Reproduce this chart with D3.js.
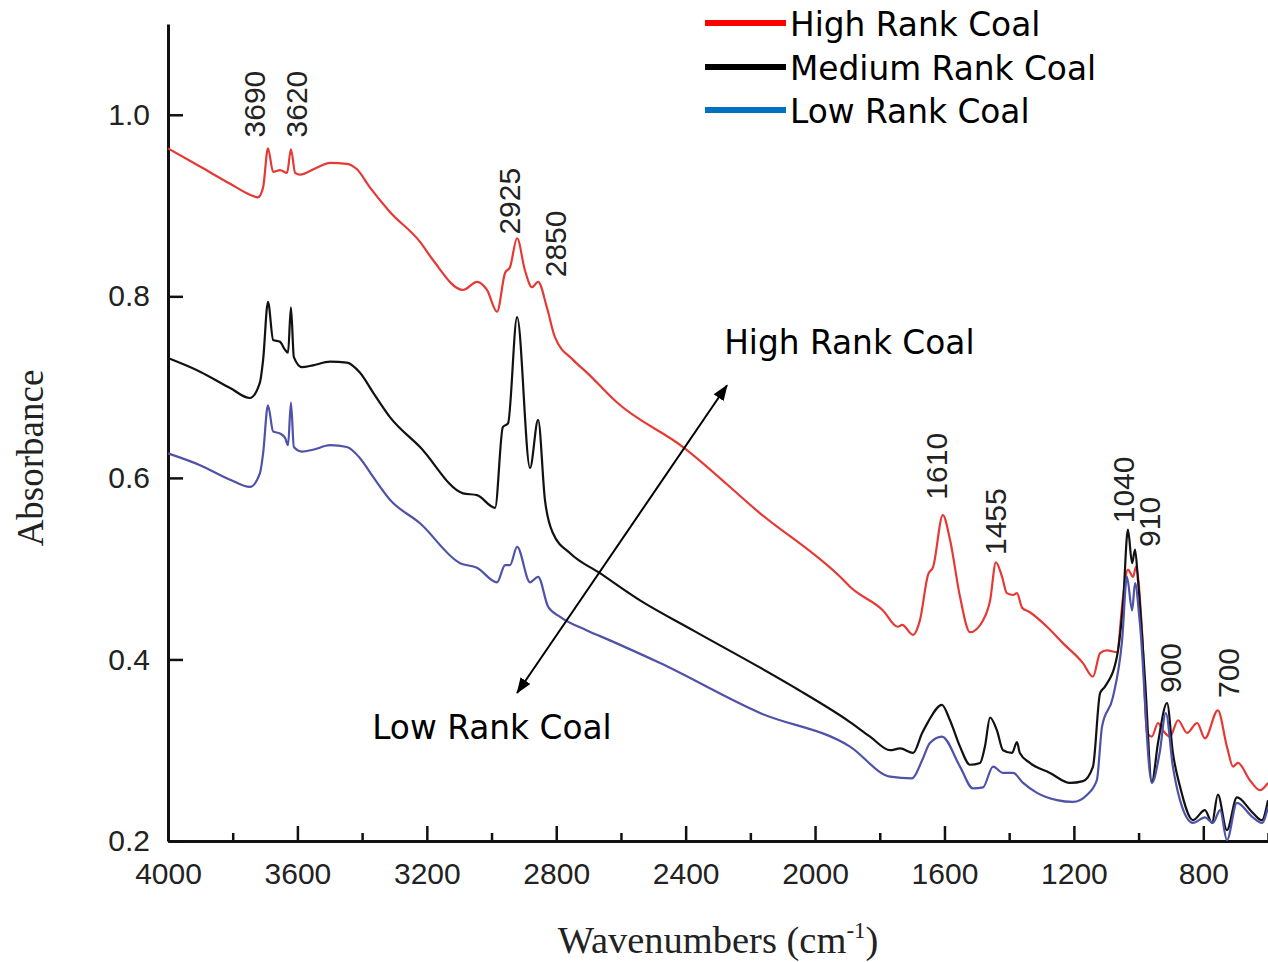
<!DOCTYPE html>
<html>
<head>
<meta charset="utf-8">
<script src="https://cdn.jsdelivr.net/npm/d3@7"></script>
<style>
  html, body { margin: 0; padding: 0; background: #fff; }
  svg { display: block; }
</style>
</head>
<body>
<svg id="chart" width="1268" height="962"></svg>
<script>
// ---------------- DATA ----------------
const seriesNames = ["High Rank Coal", "Medium Rank Coal", "Low Rank Coal"];

// [wavenumber (cm-1), absorbance]
const highRank = [[4000,0.963],[3901,0.943],[3808,0.924],[3747,0.912],[3722,0.909],[3706,0.920],[3691,0.963],[3675,0.937],[3654,0.939],[3632,0.936],[3620,0.962],[3607,0.936],[3592,0.934],[3539,0.942],[3499,0.947],[3447,0.946],[3416,0.940],[3376,0.920],[3314,0.893],[3221,0.860],[3181,0.840],[3088,0.807],[3045,0.816],[3014,0.807],[2983,0.783],[2958,0.826],[2943,0.832],[2921,0.864],[2897,0.829],[2875,0.810],[2856,0.816],[2829,0.788],[2804,0.755],[2748,0.730],[2705,0.716],[2612,0.683],[2408,0.634],[2170,0.561],[1914,0.488],[1892,0.480],[1790,0.454],[1744,0.436],[1731,0.438],[1697,0.427],[1676,0.443],[1651,0.493],[1635,0.502],[1605,0.559],[1583,0.532],[1552,0.469],[1521,0.430],[1481,0.443],[1459,0.465],[1441,0.507],[1422,0.491],[1407,0.473],[1388,0.471],[1376,0.473],[1360,0.457],[1336,0.452],[1283,0.436],[1234,0.418],[1172,0.396],[1141,0.381],[1119,0.407],[1098,0.410],[1067,0.408],[1048,0.469],[1033,0.499],[1017,0.491],[1008,0.502],[989,0.429],[974,0.319],[959,0.315],[940,0.330],[925,0.322],[903,0.315],[878,0.333],[850,0.319],[819,0.330],[795,0.313],[755,0.344],[727,0.304],[708,0.282],[693,0.286],[656,0.267],[625,0.256],[600,0.264]];

const mediumRank = [[4000,0.732],[3901,0.717],[3808,0.699],[3747,0.688],[3716,0.705],[3706,0.730],[3691,0.794],[3675,0.752],[3654,0.750],[3638,0.741],[3629,0.738],[3620,0.788],[3611,0.733],[3586,0.722],[3552,0.724],[3499,0.728],[3447,0.727],[3407,0.716],[3366,0.694],[3314,0.667],[3221,0.634],[3088,0.583],[3045,0.581],[2989,0.567],[2965,0.656],[2949,0.660],[2921,0.777],[2881,0.611],[2856,0.664],[2835,0.576],[2810,0.539],[2757,0.517],[2665,0.495],[2541,0.465],[2377,0.432],[2068,0.370],[1892,0.331],[1830,0.315],[1768,0.300],[1737,0.302],[1697,0.297],[1669,0.319],[1651,0.331],[1608,0.350],[1583,0.333],[1552,0.304],[1521,0.284],[1490,0.286],[1475,0.304],[1459,0.336],[1438,0.322],[1419,0.300],[1391,0.297],[1376,0.309],[1367,0.297],[1336,0.286],[1274,0.275],[1212,0.264],[1172,0.266],[1141,0.282],[1119,0.363],[1104,0.370],[1067,0.403],[1048,0.462],[1033,0.543],[1020,0.506],[1011,0.521],[1002,0.488],[980,0.377],[959,0.265],[940,0.308],[912,0.352],[894,0.297],[872,0.260],[832,0.223],[795,0.234],[773,0.220],[755,0.251],[727,0.212],[696,0.248],[647,0.231],[619,0.223],[600,0.245]];

const lowRank = [[4000,0.627],[3901,0.614],[3808,0.598],[3747,0.590],[3716,0.605],[3706,0.627],[3691,0.680],[3675,0.651],[3654,0.649],[3638,0.644],[3629,0.636],[3620,0.683],[3611,0.634],[3586,0.629],[3552,0.631],[3499,0.636],[3447,0.634],[3407,0.622],[3366,0.601],[3314,0.576],[3221,0.550],[3097,0.506],[3045,0.501],[2983,0.485],[2958,0.504],[2943,0.504],[2921,0.524],[2881,0.485],[2856,0.491],[2825,0.458],[2788,0.447],[2705,0.432],[2634,0.421],[2479,0.396],[2170,0.341],[1892,0.304],[1768,0.271],[1700,0.269],[1669,0.289],[1645,0.308],[1608,0.315],[1552,0.282],[1512,0.258],[1481,0.259],[1450,0.282],[1419,0.275],[1388,0.275],[1357,0.264],[1314,0.253],[1252,0.245],[1203,0.243],[1159,0.251],[1129,0.267],[1113,0.326],[1079,0.359],[1051,0.421],[1036,0.491],[1020,0.454],[1011,0.484],[996,0.440],[959,0.264],[935,0.297],[916,0.341],[894,0.282],[872,0.245],[832,0.220],[795,0.226],[770,0.220],[748,0.234],[727,0.201],[696,0.242],[647,0.226],[619,0.220],[600,0.237]];

const xMajorTicks = [4000, 3600, 3200, 2800, 2400, 2000, 1600, 1200, 800];
const xMinorTicks = [3800, 3400, 3000, 2600, 2200, 1800, 1400, 1000, 600];
const yTicks = [0.2, 0.4, 0.6, 0.8, 1.0];

// peak labels: text, wavenumber of label centre, absorbance at label bottom
const peakLabels = [
  ["3690", 3734, 0.975], ["3620", 3604, 0.975],
  ["2925", 2943, 0.868], ["2850", 2801, 0.821],
  ["1610", 1626, 0.576], ["1455", 1441, 0.515],
  ["1040", 1048, 0.550], ["910", 965, 0.524],
  ["900", 900, 0.363], ["700", 721, 0.3575]
];

// annotation arrow (data coords) and its labels
const arrowFrom = [2921, 0.363];
const arrowTo = [2272, 0.702];
const annotations = [["High Rank Coal", 2281, 0.7365], ["Low Rank Coal", 3369, 0.3124]];

// ---------------- STYLE / LAYOUT ----------------
const lineColors = ["#e53935", "#111111", "#4e52a8"];
const legendColors = ["#ff0000", "#000000", "#0070c0"];

const svg = d3.select("#chart");
const x = d3.scaleLinear().domain([4000, 600]).range([168, 1268]);
const y = d3.scaleLinear().domain([0.2, 1.1]).range([841, 24]);

const tickFont = "'Liberation Sans', Arial, sans-serif";
const sansFont = "'DejaVu Sans', Verdana, sans-serif";
const serifFont = "'Liberation Serif', 'Times New Roman', serif";

// ---------------- AXES ----------------
const xAxis = svg.append("g").attr("transform", `translate(0,${y(0.2)})`)
  .call(d3.axisBottom(x).tickValues(xMajorTicks).tickFormat(d3.format("d"))
    .tickSize(-15).tickSizeOuter(0).tickPadding(22));
const xMinor = svg.append("g").attr("transform", `translate(0,${y(0.2)})`)
  .call(d3.axisBottom(x).tickValues(xMinorTicks).tickFormat("")
    .tickSize(-8).tickSizeOuter(0));
xMinor.select(".domain").remove();

const yAxis = svg.append("g").attr("transform", `translate(${x(4000)},0)`)
  .call(d3.axisLeft(y).tickValues(yTicks).tickFormat(d3.format(".1f"))
    .tickSize(-15).tickSizeOuter(0).tickPadding(18));

[xAxis, xMinor, yAxis].forEach(g => {
  g.selectAll(".domain").attr("stroke", "#111").attr("stroke-width", 3);
  g.selectAll(".tick line").attr("stroke", "#111").attr("stroke-width", 2.5);
  g.selectAll(".tick text").attr("font-family", tickFont).attr("font-size", 30).attr("fill", "#222");
});

// ---------------- SPECTRA ----------------
const line = d3.line().curve(d3.curveMonotoneX).x(d => x(d[0])).y(d => y(d[1]));
[highRank, mediumRank, lowRank].forEach((s, i) => {
  svg.append("path").datum(s)
    .attr("d", line)
    .attr("fill", "none")
    .attr("stroke", lineColors[i])
    .attr("stroke-width", 2.2)
    .attr("stroke-linejoin", "round");
});

// ---------------- PEAK LABELS ----------------
svg.append("g").selectAll("text").data(peakLabels).join("text")
  .attr("transform", d => `translate(${x(d[1]) + 10.5},${y(d[2])}) rotate(-90)`)
  .attr("font-family", tickFont).attr("font-size", 30).attr("fill", "#222")
  .attr("text-anchor", "start")
  .text(d => d[0]);

// ---------------- ARROW ANNOTATION ----------------
const defs = svg.append("defs");
defs.append("marker").attr("id", "arrowHead")
  .attr("viewBox", "0 0 16 12").attr("refX", 15).attr("refY", 6)
  .attr("markerWidth", 16).attr("markerHeight", 12)
  .attr("markerUnits", "userSpaceOnUse")
  .attr("orient", "auto-start-reverse")
  .append("path").attr("d", "M0,0 L16,6 L0,12 Z").attr("fill", "#000");

svg.append("line")
  .attr("x1", x(arrowFrom[0])).attr("y1", y(arrowFrom[1]))
  .attr("x2", x(arrowTo[0])).attr("y2", y(arrowTo[1]))
  .attr("stroke", "#000").attr("stroke-width", 2)
  .attr("marker-start", "url(#arrowHead)")
  .attr("marker-end", "url(#arrowHead)");

svg.append("g").selectAll("text").data(annotations).join("text")
  .attr("x", d => x(d[1])).attr("y", d => y(d[2]))
  .attr("font-family", sansFont)
  .attr("font-size", 32.8).attr("fill", "#000")
  .text(d => d[0]);

// ---------------- LEGEND ----------------
const legendY = [23, 67, 110];
const legend = svg.append("g");
seriesNames.forEach((name, i) => {
  legend.append("line")
    .attr("x1", 705).attr("x2", 786)
    .attr("y1", legendY[i]).attr("y2", legendY[i])
    .attr("stroke", legendColors[i]).attr("stroke-width", 6);
  legend.append("text")
    .attr("x", 790).attr("y", legendY[i] + 13)
    .attr("font-family", sansFont)
    .attr("font-size", 32.8).attr("fill", "#000")
    .text(name);
});

// ---------------- AXIS TITLES ----------------
svg.append("text")
  .attr("transform", `translate(43,458) rotate(-90)`)
  .attr("text-anchor", "middle")
  .attr("font-family", serifFont)
  .attr("font-size", 37).attr("fill", "#222")
  .text("Absorbance");

const xTitle = svg.append("text")
  .attr("x", 718).attr("y", 953)
  .attr("text-anchor", "middle")
  .attr("font-family", serifFont)
  .attr("font-size", 38.5).attr("fill", "#222");
xTitle.append("tspan").text("Wavenumbers (cm");
xTitle.append("tspan").attr("dy", -15).attr("font-size", 23).text("-1");
xTitle.append("tspan").attr("dy", 15).text(")");
</script>
</body>
</html>
